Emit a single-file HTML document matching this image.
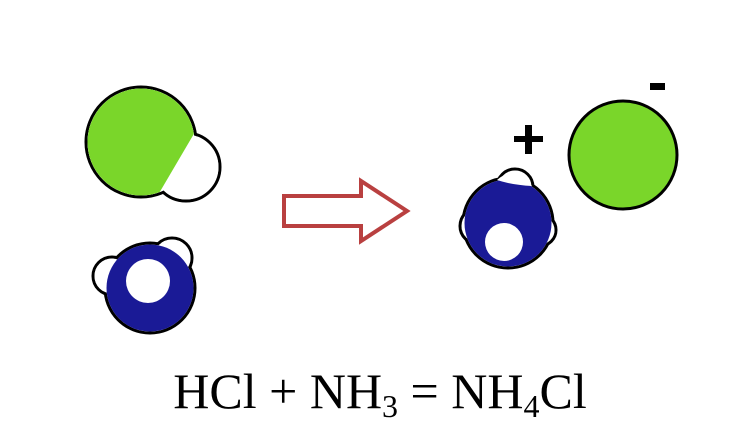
<!DOCTYPE html>
<html><head><style>
html,body{margin:0;padding:0;background:#fff;}
.t{position:absolute;left:0;top:362px;width:760px;text-align:center;font-family:"Liberation Serif",serif;font-size:50px;color:#000;white-space:nowrap;}
sub{font-size:32px;vertical-align:-9px;line-height:0;}
</style></head><body>
<div style="position:relative;width:731px;height:439px;overflow:hidden;">
<svg width="731" height="439" style="position:absolute;left:0;top:0">
<defs>
<clipPath id="c1"><polygon points="60,60 230,60 195,132 158,195 60,230"/></clipPath>
</defs>
<!-- HCl: union outline -->
<g stroke="#000" stroke-width="3" fill="#fff">
<circle cx="186" cy="167" r="34"/>
<circle cx="141" cy="142" r="55"/>
</g>
<g fill="#fff">
<circle cx="186" cy="167" r="32.5"/>
<circle cx="141" cy="142" r="53.5"/>
</g>
<circle cx="141" cy="142" r="53.5" fill="#7ad62a" clip-path="url(#c1)"/>
<!-- NH3 left -->
<g stroke="#000" stroke-width="3" fill="#fff">
<circle cx="112" cy="276" r="19"/>
<circle cx="172" cy="258" r="20"/>
<circle cx="150" cy="288" r="45"/>
</g>
<g fill="#fff">
<circle cx="112" cy="276" r="17.5"/>
<circle cx="172" cy="258" r="18.5"/>
</g>
<circle cx="150" cy="288" r="43.5" fill="#1a1a96"/>
<circle cx="148" cy="281" r="22" fill="#fff"/>
<!-- arrow -->
<polygon points="284,196 361,196 361,181 407,211 361,241 361,226 284,226" fill="#fff" stroke="#b94040" stroke-width="4"/>
<!-- NH4 -->
<g stroke="#000" stroke-width="3" fill="#fff">
<circle cx="478" cy="226" r="18"/>
<circle cx="540" cy="230" r="16"/>
<circle cx="515" cy="187" r="18"/>
<circle cx="508" cy="223" r="45"/>
</g>
<g fill="#fff">
<circle cx="478" cy="226" r="16.5"/>
<circle cx="540" cy="230" r="14.5"/>
<circle cx="515" cy="187" r="16.5"/>
</g>
<circle cx="508" cy="223" r="43.5" fill="#1a1a96"/>
<path d="M497,180 Q515,164 532,186 Q512,185 497,180Z" fill="#fff"/>
<circle cx="504" cy="242" r="19" fill="#fff"/>
<!-- Cl- -->
<circle cx="623" cy="155" r="54" fill="#7ad62a" stroke="#000" stroke-width="3"/>
<!-- charges -->
<rect x="514" y="136" width="29" height="6" fill="#000"/>
<rect x="525" y="125" width="7" height="29" fill="#000"/>
<rect x="650" y="83" width="15" height="7" fill="#000"/>
</svg>
<div class="t">HCl + NH<sub>3</sub> = NH<sub>4</sub>Cl</div>
</div>
</body></html>
